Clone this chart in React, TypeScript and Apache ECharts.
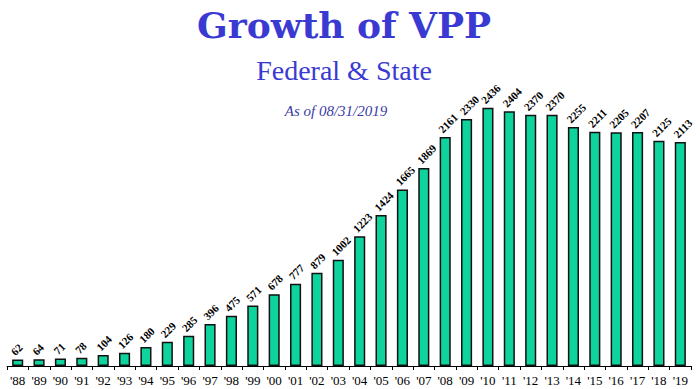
import React, { useEffect, useRef } from "react";
import * as echarts from "echarts";

const years = ["'88","'89","'90","'91","'92","'93","'94","'95","'96","'97","'98","'99","'00","'01","'02","'03","'04","'05","'06","'07","'08","'09","'10","'11","'12","'13","'14","'15","'16","'17","'18","'19"];
const values = [62,64,71,78,104,126,180,229,285,396,475,571,678,777,879,1002,1223,1424,1665,1869,2161,2330,2436,2404,2370,2370,2255,2211,2205,2207,2125,2113];
const titleText = "Growth of VPP";
const subtitleText = "Federal & State";
const dateText = "As of 08/31/2019";

export default function App() {
  const ref = useRef<HTMLDivElement>(null);
  useEffect(() => {
    if (!ref.current) return;
    const chart = echarts.init(ref.current, null, { renderer: "svg" });
    chart.setOption({
      animation: false,
      backgroundColor: "#ffffff",
      graphic: [
        { type: "text", x: 344, y: 7, style: { text: titleText, textAlign: "center", fontFamily: "DejaVu Serif", fontWeight: "bold", fontSize: 36, fill: "#3a3ad2" } },
        { type: "text", x: 344, y: 56, style: { text: subtitleText, textAlign: "center", fontFamily: "Liberation Serif", fontSize: 28, fill: "#3a3ad2" } },
        { type: "text", x: 336, y: 103, style: { text: dateText, textAlign: "center", fontFamily: "Liberation Serif", fontStyle: "italic", fontSize: 15, fill: "#3b3ba6" } },
      ],
      grid: { left: 7, right: 9, top: 101, bottom: 23 },
      xAxis: {
        type: "category",
        data: years,
        axisLine: { lineStyle: { color: "#000", width: 1 } },
        axisTick: { show: true, length: 4, lineStyle: { color: "#000" } },
        axisLabel: { color: "#000", fontFamily: "Liberation Serif", fontSize: 13, margin: 8, interval: 0 },
      },
      yAxis: { type: "value", min: 0, max: 2500, show: false, splitLine: { show: false } },
      series: [
        {
          type: "bar",
          data: values,
          barWidth: "52%",
          itemStyle: { color: "#0fd39c", borderColor: "#111", borderWidth: 1.5 },
        },
        {
          type: "custom",
          data: values.map((v, i) => [i, v]),
          silent: true,
          renderItem: (params: any, api: any) => {
            const p = api.coord([api.value(0), api.value(1)]);
            return {
              type: "group",
              x: p[0] - 5,
              y: p[1] - 6,
              rotation: Math.PI / 4,
              children: [
                {
                  type: "text",
                  x: 0,
                  y: 0,
                  style: {
                    text: String(api.value(1)),
                    textAlign: "left",
                    textVerticalAlign: "middle",
                    fill: "#000",
                    fontFamily: "Liberation Serif",
                    fontWeight: "bold",
                    fontSize: 11,
                  },
                },
              ],
            };
          },
        },
      ],
    });
    return () => chart.dispose();
  }, []);
  return <div ref={ref} style={{ position: "fixed", left: 0, top: 0, width: 700, height: 389 }} />;
}
